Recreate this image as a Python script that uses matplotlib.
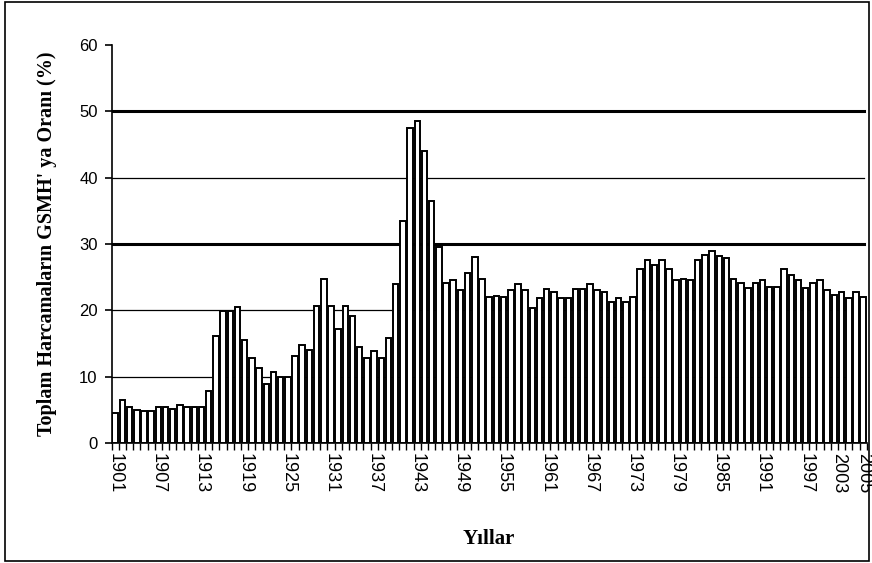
import numpy as np
import matplotlib
matplotlib.use("Agg")
import matplotlib.pyplot as plt
from matplotlib.patches import Rectangle
from matplotlib.transforms import ScaledTranslation

# yearly ratio of total expenditure to GNP (%)
years = list(range(1901, 2006))
ratio = [4.5, 6.5, 5.4, 5.0, 4.9, 4.9, 5.4, 5.4, 5.2, 5.7,
         5.4, 5.4, 5.4, 7.8, 16.2, 19.9, 19.9, 20.5, 15.6, 12.8,
         11.3, 8.9, 10.7, 9.9, 9.9, 13.2, 14.8, 14.0, 20.7, 24.8,
         20.7, 17.2, 20.7, 19.2, 14.5, 12.8, 13.9, 12.8, 15.9, 24.0,
         33.5, 47.5, 48.5, 44.0, 36.5, 29.6, 24.1, 24.6, 23.0, 25.6,
         28.1, 24.7, 22.0, 22.2, 22.0, 23.0, 24.0, 23.0, 20.4, 21.8,
         23.3, 22.8, 21.8, 21.8, 23.3, 23.3, 24.0, 23.0, 22.8, 21.3,
         21.8, 21.3, 22.0, 26.3, 27.6, 26.9, 27.6, 26.3, 24.6, 24.8,
         24.6, 27.6, 28.4, 28.9, 28.2, 27.9, 24.8, 24.1, 23.4, 24.1,
         24.6, 23.6, 23.6, 26.3, 25.4, 24.6, 23.4, 24.1, 24.6, 23.0,
         22.3, 22.8, 21.8, 22.8, 22.0]
label_years = list(range(1901, 2004, 6)) + [2005]
y_ticks = [0, 10, 20, 30, 40, 50, 60]
thick_grid = [30, 50]

fig = plt.figure(figsize=(8.72, 5.63), dpi=100)
ax = fig.add_axes([0.128, 0.213, 0.866, 0.707])

x = np.arange(len(years))
ax.bar(x, ratio, width=0.76, color="white", edgecolor="black", linewidth=1.4, zorder=2)

ax.set_xlim(-0.5, len(years) - 0.5)
ax.set_ylim(0, 60)

# horizontal grid, heavier at 30 and 50
for v in y_ticks[1:-1]:
    lw = 2.2 if v in thick_grid else 0.9
    ax.axhline(v, xmin=0, xmax=0.996, color="black", linewidth=lw, zorder=1)

ax.set_yticks(y_ticks)
ax.set_yticklabels([str(v) for v in y_ticks], fontsize=12, family="Liberation Sans")
ax.tick_params(axis="y", direction="out", length=5, width=1.2, pad=5)

# ticks between categories, labels every 6 years
ax.set_xticks(np.arange(len(years) + 1) - 0.5)
ax.set_xticklabels([])
ax.tick_params(axis="x", which="major", direction="out", length=5, width=1.0)
ax.set_xticks([years.index(y) for y in label_years], minor=True)
labels = ax.set_xticklabels([str(y) for y in label_years], minor=True, rotation=270,
                            fontsize=13, family="Liberation Sans")
ax.tick_params(axis="x", which="minor", length=0, pad=7)
# the 2003 label sits a little to the left so it clears 2005
labels[-2].set_transform(labels[-2].get_transform() +
                         ScaledTranslation(-0.1, 0, fig.dpi_scale_trans))

for s in ["top", "right"]:
    ax.spines[s].set_visible(False)
ax.spines["left"].set_linewidth(1.2)
ax.spines["bottom"].set_linewidth(1.2)

ax.set_ylabel("Toplam Harcamaların GSMH' ya Oranı (%)", fontsize=14.5,
              fontweight="bold", family="Liberation Serif", labelpad=16)
ax.set_xlabel("Yıllar", fontsize=15, fontweight="bold", family="Liberation Serif",
              labelpad=26)

fig.patches.append(Rectangle((0.006, 0.003), 0.99, 0.994, transform=fig.transFigure,
                             fill=False, edgecolor="black", linewidth=1.2))

fig.savefig("out.png", dpi=100)
